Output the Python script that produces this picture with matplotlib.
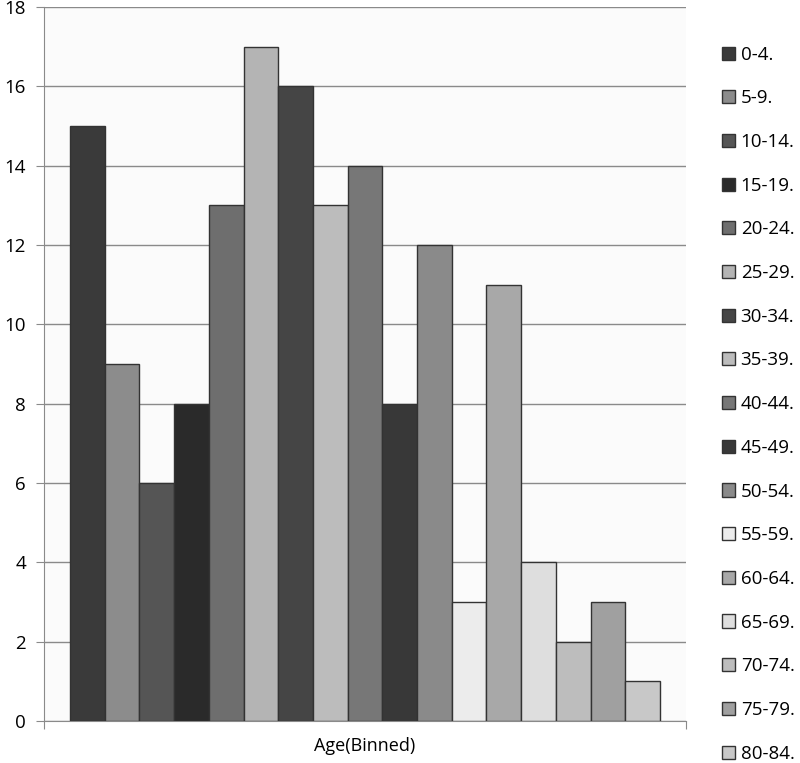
import numpy as np
import matplotlib.pyplot as plt

# age bins and counts
bins = ['0-4.', '5-9.', '10-14.', '15-19.', '20-24.', '25-29.', '30-34.', '35-39.',
        '40-44.', '45-49.', '50-54.', '55-59.', '60-64.', '65-69.', '70-74.',
        '75-79.', '80-84.']
counts = [15, 9, 6, 8, 13, 17, 16, 13, 14, 8, 12, 3, 11, 4, 2, 3, 1]
shades = ['#3a3a3a', '#8c8c8c', '#555555', '#2a2a2a', '#6e6e6e', '#b4b4b4',
          '#454545', '#bcbcbc', '#777777', '#383838', '#8a8a8a', '#ececec',
          '#a8a8a8', '#dedede', '#bdbdbd', '#a0a0a0', '#c8c8c8']

plt.rcParams['font.family'] = ['Open Sans', 'DejaVu Sans']

fig = plt.figure(figsize=(8, 7.63), dpi=100)
ax = fig.add_axes([0.055, 0.055, 0.8025, 0.9358])
ax.set_facecolor('#fbfbfb')

for i in range(len(counts)):
    ax.bar(i, counts[i], width=1.0, color=shades[i], edgecolor='#333333',
           linewidth=1.0, label=bins[i], zorder=3)

ax.set_xlim(-1.25, 17.25)
ax.set_ylim(0, 18)
ax.set_yticks(np.arange(0, 19, 2))
ax.yaxis.grid(True, color='#8a8a8a', linewidth=1.0, zorder=0)
ax.set_xticks([-1.25, 17.25])
ax.set_xticklabels([])
ax.tick_params(axis='x', length=6, color='#8a8a8a', direction='out')
ax.tick_params(axis='y', length=6, color='#8a8a8a', labelsize=13.5, pad=7)
for s in ['top', 'right']:
    ax.spines[s].set_visible(False)
for s in ['left', 'bottom']:
    ax.spines[s].set_color('#8a8a8a')
ax.set_xlabel('Age(Binned)', fontsize=13, labelpad=2)

fig.legend(loc='upper left', bbox_to_anchor=(0.893, 0.95), frameon=False,
           fontsize=13.5, handlelength=0.7, handleheight=0.7, handletextpad=0.3,
           labelspacing=1.37, borderaxespad=0)

fig.savefig('out.png', dpi=100)
